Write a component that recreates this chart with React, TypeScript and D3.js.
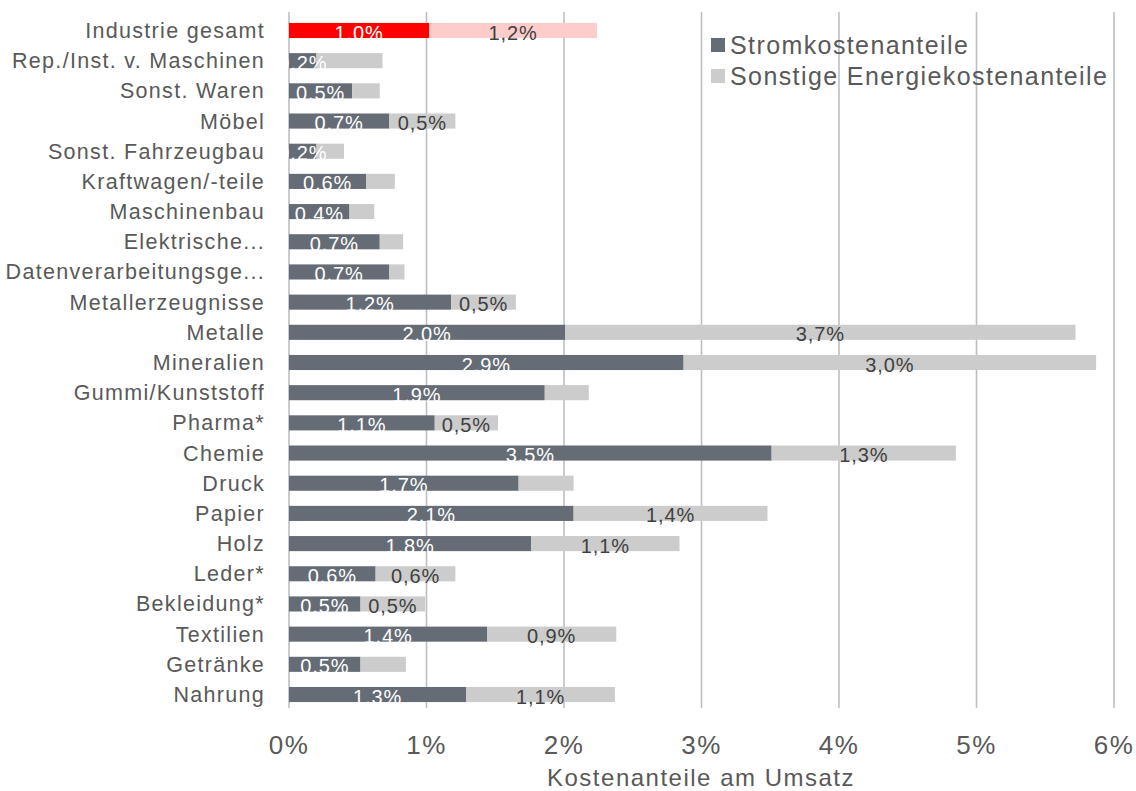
import React, { useRef, useEffect } from "react";
import * as d3 from "d3";

// Kostenanteile am Umsatz in %
const categories: string[] = [
  "Industrie gesamt",
  "Rep./Inst. v. Maschinen",
  "Sonst. Waren",
  "Möbel",
  "Sonst. Fahrzeugbau",
  "Kraftwagen/-teile",
  "Maschinenbau",
  "Elektrische...",
  "Datenverarbeitungsge...",
  "Metallerzeugnisse",
  "Metalle",
  "Mineralien",
  "Gummi/Kunststoff",
  "Pharma*",
  "Chemie",
  "Druck",
  "Papier",
  "Holz",
  "Leder*",
  "Bekleidung*",
  "Textilien",
  "Getränke",
  "Nahrung",
];

const stromValues: number[] = [
  1.02, 0.2, 0.46, 0.73, 0.2, 0.56, 0.44, 0.66, 0.73, 1.18, 2.01, 2.87, 1.86,
  1.06, 3.51, 1.67, 2.07, 1.76, 0.63, 0.52, 1.44, 0.52, 1.29,
];

const sonstigeValues: number[] = [
  1.22, 0.48, 0.2, 0.48, 0.2, 0.21, 0.18, 0.17, 0.11, 0.47, 3.71, 3.0, 0.32,
  0.46, 1.34, 0.4, 1.41, 1.08, 0.58, 0.47, 0.94, 0.33, 1.08,
];

// which "Sonstige" segments carry a data label
const sonstigeLabelled: boolean[] = [
  true, false, false, true, false, false, false, false, false, true, true, true,
  false, true, true, false, true, true, true, true, true, false, true,
];

const xTicks: number[] = [0, 1, 2, 3, 4, 5, 6];
const seriesNames: string[] = ["Stromkostenanteile", "Sonstige Energiekostenanteile"];

const DARK = "#656c75";
const LIGHT = "#cccccc";
const RED = "#ff0000";
const PINK = "#ffcccc";
const TEXT = "#595959";
const FONT = "'Liberation Sans', Arial, sans-serif";

const App: React.FC = () => {
  const svgRef = useRef<SVGSVGElement>(null);

  useEffect(() => {
    if (!svgRef.current) return;
    const width = 1136;
    const height = 791;

    const svg = d3.select(svgRef.current).attr("width", width).attr("height", height);
    svg.selectAll("*").remove();

    const x = d3.scaleLinear().domain([0, 6]).range([289, 1114]);
    const y = d3
      .scaleBand()
      .domain(categories)
      .range([15.4, 709.6])
      .paddingInner(0.5)
      .paddingOuter(0.25);

    const fmt = (v: number) => d3.format(".1f")(v).replace(".", ",") + "%";

    // Gitterlinien
    svg
      .append("g")
      .selectAll("line")
      .data(xTicks)
      .enter()
      .append("line")
      .attr("x1", (d) => x(d))
      .attr("x2", (d) => x(d))
      .attr("y1", 12)
      .attr("y2", 708)
      .attr("stroke", "#bcc0c4")
      .attr("stroke-width", 1.6);

    // Kategorien
    svg
      .append("g")
      .selectAll("text")
      .data(categories)
      .enter()
      .append("text")
      .attr("x", 265)
      .attr("y", (d) => (y(d) ?? 0) + y.bandwidth() / 2)
      .attr("dy", "0.35em")
      .attr("text-anchor", "end")
      .attr("font-family", FONT)
      .attr("font-size", 21.5)
      .attr("letter-spacing", 1.3)
      .attr("fill", TEXT)
      .text((d) => d);

    const rows = categories.map((c, i) => ({
      c,
      i,
      s: stromValues[i],
      o: sonstigeValues[i],
    }));

    const bars = svg.append("g");
    bars
      .selectAll("rect.strom")
      .data(rows)
      .enter()
      .append("rect")
      .attr("x", x(0))
      .attr("y", (d) => y(d.c) ?? 0)
      .attr("width", (d) => x(d.s) - x(0))
      .attr("height", y.bandwidth())
      .attr("fill", (d) => (d.i === 0 ? RED : DARK));

    bars
      .selectAll("rect.sonst")
      .data(rows)
      .enter()
      .append("rect")
      .attr("x", (d) => x(d.s))
      .attr("y", (d) => y(d.c) ?? 0)
      .attr("width", (d) => x(d.s + d.o) - x(d.s))
      .attr("height", y.bandwidth())
      .attr("fill", (d) => (d.i === 0 ? PINK : LIGHT));

    // Datenbeschriftungen
    const labels = svg.append("g").attr("font-family", FONT).attr("font-size", 20).attr("letter-spacing", 0.9);
    labels
      .selectAll("text.strom")
      .data(rows)
      .enter()
      .append("text")
      .attr("x", (d) => x(d.s / 2))
      .attr("y", (d) => (y(d.c) ?? 0) + y.bandwidth() + 1.5)
      .attr("text-anchor", "middle")
      .attr("fill", "#ffffff")
      .text((d) => fmt(d.s));

    labels
      .selectAll("text.sonst")
      .data(rows.filter((d) => sonstigeLabelled[d.i]))
      .enter()
      .append("text")
      .attr("x", (d) => x(d.s + d.o / 2))
      .attr("y", (d) => (y(d.c) ?? 0) + y.bandwidth() + 1.5)
      .attr("text-anchor", "middle")
      .attr("fill", "#404040")
      .text((d) => fmt(d.o));

    // x-Achse
    svg
      .append("g")
      .selectAll("text")
      .data(xTicks)
      .enter()
      .append("text")
      .attr("x", (d) => x(d))
      .attr("y", 754)
      .attr("text-anchor", "middle")
      .attr("font-family", FONT)
      .attr("font-size", 26)
      .attr("letter-spacing", 1.5)
      .attr("fill", TEXT)
      .text((d) => `${d}%`);

    svg
      .append("text")
      .attr("x", 701)
      .attr("y", 786)
      .attr("text-anchor", "middle")
      .attr("font-family", FONT)
      .attr("font-size", 24)
      .attr("letter-spacing", 1.5)
      .attr("fill", TEXT)
      .text("Kostenanteile am Umsatz");

    // Legende
    const legend = svg.append("g");
    seriesNames.forEach((name, i) => {
      legend
        .append("rect")
        .attr("x", 711)
        .attr("y", 38 + i * 31)
        .attr("width", 14)
        .attr("height", 14)
        .attr("fill", i === 0 ? DARK : LIGHT);
      legend
        .append("text")
        .attr("x", 730)
        .attr("y", 54 + i * 31)
        .attr("font-family", FONT)
        .attr("font-size", 25)
        .attr("letter-spacing", 1.4)
        .attr("fill", TEXT)
        .text(name);
    });
  }, []);

  return <svg ref={svgRef} style={{ position: "absolute", left: 0, top: 0 }}></svg>;
};

export default App;
